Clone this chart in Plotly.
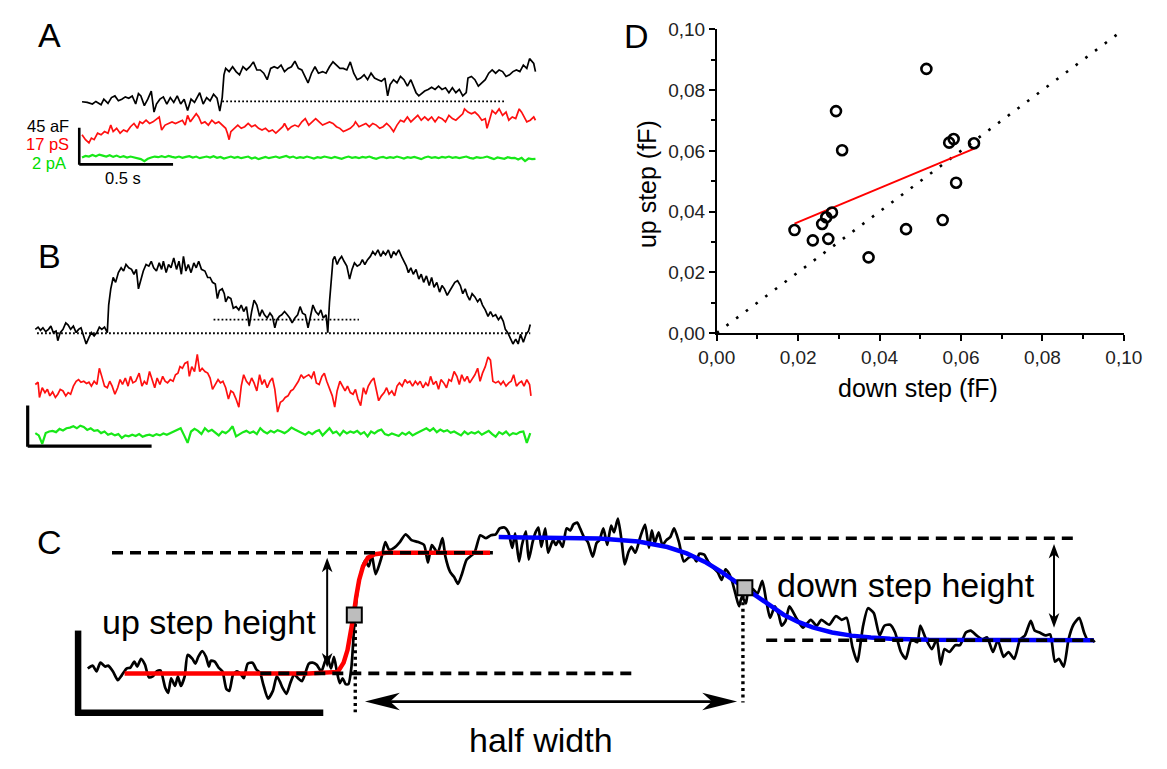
import plotly.graph_objects as go

W, H = 1167, 769
FONT = "Liberation Sans, Arial, sans-serif"

# ---------------- Panel D: up step vs down step (fF) ----------------
down_step = [0.0191, 0.0236, 0.0259, 0.0269, 0.0283, 0.0274, 0.0293, 0.0308,
             0.0373, 0.0465, 0.0515, 0.0555, 0.0571, 0.0582, 0.0588, 0.0632]
up_step = [0.0339, 0.0305, 0.0359, 0.0381, 0.0397, 0.0310, 0.0731, 0.0602,
           0.0249, 0.0342, 0.0870, 0.0372, 0.0627, 0.0639, 0.0495, 0.0625]
fit_x = [0.0191, 0.0634]
fit_y = [0.0360, 0.0608]
identity_xy = [0.0, 0.1007]
d_ticks = [0.00, 0.02, 0.04, 0.06, 0.08, 0.10]

A_CAP = [(185,283),(200,285),(215,290),(225,282),(240,292),(248,275),(260,288),(270,270),(280,265),(290,280),
         (300,275),(310,268),(320,272),(330,265),(340,290),(348,258),(355,265),(365,295),(375,275),(385,250),
         (393,315),(400,290),(410,275),(420,268),(430,290),(440,270),(450,285),(460,265),(470,290),(480,275),
         (490,310),(500,275),(510,285),(520,265),(525,255),(535,290),(545,270),(555,280),(565,260),(575,272),
         (583,312),(590,270),(595,200),(600,180),(610,190),(620,175),(630,190),(640,200),(650,175),(660,185),
         (670,175),(680,160),(690,185),(700,185),(710,195),(720,215),(730,180),(740,175),(750,180),(760,170),
         (770,190),(780,180),(790,175),(800,158),(810,180),(820,185),(830,210),(838,225),(848,195),(858,175),
         (868,195),(880,190),(890,195),(900,175),(910,160),(920,170),(930,180),(940,180),(950,185),(960,160),
         (970,195),(980,215),(990,210),(1000,200),(1010,215),(1020,195),(1030,210),(1040,215),(1050,220),(1060,210),
         (1068,265),(1075,230),(1085,215),(1095,225),(1105,205),(1115,215),(1125,235),(1135,215),(1145,240),(1150,255),
         (1158,265),(1165,258),(1175,250),(1185,245),(1195,238),(1205,245),(1215,235),(1225,245),(1235,240),(1245,255),
         (1255,240),(1265,255),(1275,245),(1285,265),(1295,255),(1300,210),(1310,205),(1320,215),(1330,235),(1340,225),
         (1350,215),(1360,195),(1370,185),(1380,195),(1390,185),(1400,190),(1410,205),(1420,200),(1430,190),(1440,185),
         (1450,190),(1460,170),(1470,180),(1478,150),(1485,160),(1490,165),(1495,190)]
A_COND = [(185,385),(195,400),(205,410),(212,395),(220,400),(230,380),(240,385),(250,375),(260,380),(268,355),
          (275,375),(285,365),(295,380),(305,370),(315,375),(325,360),(335,350),(345,365),(352,345),(360,350),
          (370,340),(380,350),(390,345),(400,335),(408,330),(415,370),(425,355),(435,350),(445,345),(455,350),
          (465,345),(475,340),(483,355),(490,325),(498,345),(505,335),(515,320),(522,330),(530,350),(540,345),
          (550,355),(560,340),(570,350),(580,345),(590,355),(600,365),(605,380),(610,400),(615,375),(625,365),
          (635,355),(645,365),(655,360),(665,350),(675,360),(685,355),(695,365),(705,370),(715,365),(725,375),
          (735,370),(745,380),(755,370),(765,360),(770,350),(780,370),(790,360),(800,355),(810,360),(820,345),
          (830,335),(840,355),(850,345),(860,335),(870,345),(880,355),(890,350),(900,345),(910,350),(920,360),
          (930,365),(940,375),(950,370),(960,365),(970,355),(975,345),(985,360),(995,355),(1005,350),(1015,360),
          (1025,350),(1035,355),(1045,365),(1055,360),(1065,350),(1075,360),(1085,375),(1095,355),(1105,340),(1115,345),
          (1125,330),(1135,345),(1145,335),(1155,325),(1165,340),(1175,330),(1185,340),(1195,330),(1205,345),(1215,330),
          (1225,335),(1235,345),(1245,325),(1255,335),(1265,340),(1275,330),(1285,320),(1290,305),(1300,315),(1310,320),
          (1320,315),(1330,325),(1340,340),(1350,335),(1355,365),(1362,340),(1370,310),(1380,320),(1390,305),(1400,325),
          (1410,315),(1418,340),(1428,330),(1438,335),(1448,305),(1455,315),(1462,330),(1470,345),(1480,340),(1490,330),
          (1495,340)]
A_CURR_T0, A_CURR_DT = 185, 10
A_CURR = [455,450,452,447,451,446,449,452,448,453,449,454,451,455,452,454,456,
          460,466,459,455,452,454,451,454,450,453,455,452,456,453,451,455,452,457,454,452,
          455,451,456,453,458,454,452,456,453,457,455,452,458,455,460,456,453,457,455,452,
          456,453,450,455,452,457,454,456,452,455,458,454,456,452,455,457,453,456,459,455,
          452,456,454,457,453,455,452,456,459,455,453,457,454,456,452,455,458,454,456,453,
          457,460,455,452,456,454,457,453,455,452,456,454,457,455,452,456,458,454,456,455,
          452,456,460,455,457,459,454,457,456,461,456,466,458,460,459]
A_BASE = (590, 1405, 282)

# ---------------- Panel B ----------------
B_CAP = [(50,385),(58,378),(65,388),(72,380),(80,392),(88,385),(95,375),(102,395),(110,390),(115,420),
         (122,395),(130,385),(138,365),(145,372),(152,385),(160,375),(168,395),(175,385),(182,380),(190,405),
         (197,430),(205,410),(212,395),(220,405),(228,395),(235,378),(242,385),(250,378),(258,395),(262,310),
         (268,260),(275,225),(282,240),(290,210),(298,195),(305,205),(312,185),(320,195),(328,200),(335,215),
         (342,200),(348,260),(355,235),(362,205),(370,185),(378,190),(385,175),(392,195),(400,205),(408,180),
         (415,200),(420,175),(428,210),(435,185),(442,195),(450,165),(458,200),(465,175),(472,215),(478,160),
         (485,205),(492,185),(500,210),(508,180),(515,195),(522,175),(530,200),(540,205),(548,225),(555,225),
         (562,240),(570,245),(576,290),(582,265),(590,260),(596,275),(600,300),(607,285),(615,290),(622,320),
         (630,315),(638,325),(645,310),(652,330),(660,315),(668,375),(675,330),(682,295),(690,310),(698,345),
         (705,325),(712,340),(720,350),(728,335),(735,345),(742,380),(748,355),(755,345),(762,340),(770,330),
         (778,340),(785,350),(792,365),(800,350),(808,340),(815,315),(822,335),(830,340),(838,380),(845,345),
         (852,310),(860,330),(868,340),(875,325),(882,350),(890,340),(895,395),(900,300),(905,225),(910,170),
         (915,160),(922,185),(928,170),(935,160),(942,175),(950,190),(958,230),(965,200),(972,180),(980,190),
         (988,185),(995,170),(1002,185),(1010,170),(1018,160),(1025,145),(1032,155),(1040,140),(1048,160),(1055,145),
         (1062,155),(1070,140),(1078,165),(1085,145),(1092,155),(1100,140),(1108,160),(1115,175),(1122,190),(1128,210),
         (1135,195),(1142,215),(1150,200),(1158,230),(1165,215),(1172,240),(1180,220),(1188,250),(1195,225),(1202,255),
         (1210,240),(1218,270),(1225,250),(1232,260),(1240,280),(1248,265),(1255,250),(1262,240),(1270,235),(1278,250),
         (1285,275),(1292,260),(1298,280),(1305,295),(1312,275),(1320,285),(1328,300),(1335,290),(1342,310),(1350,325),
         (1358,345),(1365,330),(1372,345),(1380,340),(1388,355),(1395,345),(1402,360),(1408,385),(1415,395),(1422,410),
         (1430,430),(1438,415),(1445,430),(1452,400),(1460,425),(1468,400),(1475,390),(1480,370)]
B_COND = [(50,555),(58,548),(62,595),(70,565),(78,580),(85,570),(92,590),(100,578),(108,595),(115,585),
          (122,570),(130,575),(138,590),(145,580),(152,585),(160,560),(168,545),(175,540),(182,548),(190,545),
          (198,552),(205,548),(212,560),(220,545),(228,555),(235,505),(242,530),(250,560),(258,565),(265,545),
          (272,560),(280,585),(288,565),(295,540),(302,555),(310,535),(318,560),(325,530),(332,550),(340,545),
          (350,520),(358,560),(365,545),(372,555),(380,515),(388,545),(395,565),(402,535),(410,555),(418,530),
          (425,545),(432,550),(440,540),(448,545),(455,525),(462,520),(468,500),(475,505),(482,490),(490,485),
          (495,530),(502,500),(510,515),(518,462),(525,515),(532,505),(540,515),(548,520),(555,535),(562,570),
          (570,555),(578,540),(585,550),(592,545),(600,565),(608,600),(615,575),(622,580),(630,600),(638,625),
          (645,560),(652,525),(660,545),(668,555),(675,535),(682,550),(690,575),(698,525),(705,555),(712,540),
          (720,565),(728,545),(735,535),(742,570),(750,640),(758,610),(765,605),(772,595),(780,590),(788,575),
          (795,570),(802,560),(810,545),(818,525),(825,535),(832,530),(840,525),(848,535),(855,515),(862,550),
          (870,555),(878,530),(885,520),(892,545),(900,565),(908,590),(915,625),(922,575),(930,545),(938,560),
          (945,575),(952,560),(960,580),(968,585),(975,570),(982,600),(990,620),(998,565),(1005,585),(1012,560),
          (1020,545),(1028,535),(1035,570),(1042,605),(1050,590),(1058,580),(1065,565),(1072,585),(1080,575),(1088,590),
          (1095,560),(1102,550),(1110,560),(1118,540),(1125,550),(1132,545),(1140,560),(1148,545),(1155,555),(1162,545),
          (1170,565),(1178,550),(1185,560),(1192,530),(1200,555),(1208,545),(1215,570),(1222,540),(1230,550),(1238,565),
          (1245,540),(1252,545),(1260,515),(1268,530),(1275,555),(1282,525),(1290,545),(1298,530),(1305,550),(1312,540),
          (1320,525),(1328,505),(1335,545),(1342,520),(1350,500),(1358,470),(1365,480),(1372,545),(1380,550),(1388,545),
          (1395,555),(1402,545),(1410,560),(1418,550),(1425,545),(1432,525),(1440,560),(1448,550),(1455,545),(1462,560),
          (1470,540),(1478,555),(1482,590)]
B_CURR_T0, B_CURR_DT = 50, 10
B_CURR = [705,712,738,705,700,698,702,692,697,690,688,684,690,682,686,695,690,698,696,705,
          700,710,706,712,708,720,712,715,710,714,708,716,712,710,714,708,712,706,710,705,
          702,695,690,712,735,700,692,698,708,690,700,695,705,712,700,705,697,684,715,708,
          702,698,705,700,708,690,700,706,698,703,696,700,705,698,688,694,700,706,710,702,
          708,700,696,712,702,690,705,700,712,698,706,700,704,698,708,702,715,700,706,698,
          694,708,712,706,710,714,704,710,702,712,706,700,694,690,698,690,702,694,700,696,
          704,700,706,712,700,708,702,706,700,710,704,698,708,716,702,708,700,712,705,708,
          702,700,735,705]
B_BASE = (55, 1480, 397)
B_BASE2 = (565, 985, 355)

# ---------------- Panel C: schematic trace and fits ----------------
C_TRACE = [(72,677),(77,674),(81,680),(85,671),(90,675),(93,674),(98,680),(103,689),(107,684),(112,677),
           (116,676),(120,670),(123,675),(127,667),(131,673),(135,686),(139,685),(143,680),(147,679),(152,697),
           (155,702),(158,687),(162,695),(165,685),(168,695),(172,685),(175,663),(180,667),(183,672),(186,665),
           (190,659),(194,665),(197,675),(199,669),(203,670),(207,676),(211,680),(215,698),(218,700),(222,683),
           (226,680),(230,683),(233,687),(237,672),(242,671),(246,678),(250,682),(253,693),(258,708),(263,700),
           (267,685),(270,690),(273,697),(277,703),(281,692),(285,683),(289,687),(293,690),(297,680),(300,672),
           (304,671),(308,673),(313,680),(316,672),(319,665),(323,677),(326,665),(329,680),(332,692),(335,687),
           (338,693),(341,693),(344,676),(347,632),(350,600),(354,578),(358,566),(362,572),(365,560),(369,580),
           (375,563),(379,547),(383,555),(388,553),(394,547),(400,539),(406,545),(413,547),(419,550),(423,568),
           (427,550),(433,558),(438,543),(441,562),(446,578),(450,583),(454,590),(458,580),(463,565),(471,558),
           (477,540),(483,543),(488,540),(493,539),(497,533),(502,532),(506,537),(510,553),(513,538),(517,567),
           (520,550),(524,536),(527,565),(531,547),(534,537),(537,532),(540,552),(544,533),(547,558),(552,545),
           (555,550),(558,545),(562,552),(566,533),(570,535),(573,529),(577,527),(580,533),(584,542),(588,547),
           (593,562),(597,548),(600,545),(604,533),(608,550),(612,530),(615,537),(619,523),(623,547),(626,570),
           (630,557),(633,552),(637,558),(642,542),(647,529),(651,553),(654,535),(657,548),(661,537),(665,550),
           (669,545),(673,542),(677,533),(682,547),(687,567),(692,563),(697,562),(700,567),(703,559),(708,560),
           (712,567),(717,573),(722,578),(726,586),(730,575),(734,580),(737,588),(741,603),(744,613),(747,603),
           (751,610),(753,600),(758,595),(763,600),(768,587),(772,607),(776,625),(781,613),(785,622),(788,633),
           (792,628),(796,613),(803,625),(810,635),(818,627),(824,633),(829,627),(837,632),(844,623),(850,627),
           (855,625),(861,655),(866,670),(872,633),(877,615),(883,620),(889,643),(894,633),(900,632),(905,640),
           (911,660),(916,667),(922,647),(928,650),(931,633),(937,647),(943,657),(948,647),(952,673),(956,657),
           (961,660),(967,653),(972,653),(978,640),(983,638),(989,643),(995,647),(1000,645),(1006,660),(1011,648),
           (1017,665),(1022,660),(1028,667),(1034,647),(1039,643),(1045,628),(1049,638),(1054,640),(1060,643),(1065,642),
           (1070,670),(1074,667),(1079,675),(1084,647),(1089,632),(1095,625),(1100,640),(1104,648),(1108,647),(1111,650)]
C_UP_FIT = [(110,682),(300,682),(330,680.5),(336,671),(340,658),(343,643),(346,624),(349,603),(352,586),
            (356,572),(361,563),(368,559.5),(380,558),(487,558)]
C_DOWN_FIT = [(496,541.8),(560,542.2),(600,543.3),(640,546.5),(670,552.1),(690,558.6),(710,568.0),(725,577.1),
              (740,587.5),(750,594.9),(760,602.2),(775,612.6),(790,621.7),(805,629.1),(820,634.7),(840,639.9),
              (860,643.2),(880,645.2),(900,646.4),(940,647.5),(1110,648)]
C_HALF_PTS = [(347,622),(750,594)]
C_LEVELS = [(97, 490, 558), (250, 633, 682), (687, 1090, 543), (772, 1110, 648)]


def xs(pairs):
    return [p[0] for p in pairs]


def ys(pairs):
    return [p[1] for p in pairs]


fig = go.Figure()
BLACK, RED, GREEN, BLUE = "#000000", "#ff1010", "#18e818", "#0000ff"

# Panel A traces
fig.add_trace(go.Scatter(x=xs(A_CAP), y=ys(A_CAP), mode="lines", line=dict(color=BLACK, width=1.7), xaxis="x", yaxis="y"))
fig.add_trace(go.Scatter(x=xs(A_COND), y=ys(A_COND), mode="lines", line=dict(color=RED, width=1.7), xaxis="x", yaxis="y"))
fig.add_trace(go.Scatter(x=[A_CURR_T0 + i * A_CURR_DT for i in range(len(A_CURR))], y=A_CURR, mode="lines",
                         line=dict(color=GREEN, width=2.2), xaxis="x", yaxis="y"))
# Panel B traces
fig.add_trace(go.Scatter(x=xs(B_CAP), y=ys(B_CAP), mode="lines", line=dict(color=BLACK, width=1.7), xaxis="x2", yaxis="y2"))
fig.add_trace(go.Scatter(x=xs(B_COND), y=ys(B_COND), mode="lines", line=dict(color=RED, width=1.7), xaxis="x2", yaxis="y2"))
fig.add_trace(go.Scatter(x=[B_CURR_T0 + i * B_CURR_DT for i in range(len(B_CURR))], y=B_CURR, mode="lines",
                         line=dict(color=GREEN, width=2.2), xaxis="x2", yaxis="y2"))
# Panel C traces
fig.add_trace(go.Scatter(x=xs(C_TRACE), y=ys(C_TRACE), mode="lines", line=dict(color=BLACK, width=2.7, shape="spline", smoothing=0.6),
                         xaxis="x3", yaxis="y3"))
fig.add_trace(go.Scatter(x=xs(C_UP_FIT), y=ys(C_UP_FIT), mode="lines", line=dict(color="#ff0000", width=4.5),
                         xaxis="x3", yaxis="y3"))
fig.add_trace(go.Scatter(x=xs(C_DOWN_FIT), y=ys(C_DOWN_FIT), mode="lines", line=dict(color=BLUE, width=4.5),
                         xaxis="x3", yaxis="y3"))
fig.add_trace(go.Scatter(x=xs(C_HALF_PTS), y=ys(C_HALF_PTS), mode="markers",
                         marker=dict(symbol="square", size=15, color="#bdbdbd", line=dict(color=BLACK, width=2)),
                         xaxis="x3", yaxis="y3"))
# Panel D traces
fig.add_trace(go.Scatter(x=identity_xy, y=identity_xy, mode="lines",
                         line=dict(color=BLACK, width=2.6, dash="2.6px,9.5px"), xaxis="x4", yaxis="y4"))
fig.add_trace(go.Scatter(x=fit_x, y=fit_y, mode="lines", line=dict(color="#ff0000", width=2), xaxis="x4", yaxis="y4"))
fig.add_trace(go.Scatter(x=down_step, y=up_step, mode="markers",
                         marker=dict(symbol="circle-open", size=10, color=BLACK, line=dict(width=2.6)),
                         xaxis="x4", yaxis="y4", cliponaxis=False))

shapes = []


def hline(x0, x1, y, xr, yr, width, dash=None, color=BLACK, layer="above"):
    ln = dict(color=color, width=width)
    if dash:
        ln["dash"] = dash
    shapes.append(dict(type="line", x0=x0, x1=x1, y0=y, y1=y, xref=xr, yref=yr, line=ln, layer=layer))


def vline(x, y0, y1, xr, yr, width, dash=None, color=BLACK, layer="above"):
    ln = dict(color=color, width=width)
    if dash:
        ln["dash"] = dash
    shapes.append(dict(type="line", x0=x, x1=x, y0=y0, y1=y1, xref=xr, yref=yr, line=ln, layer=layer))


def arrow_head(tx, ty, dx, dy, L, hw):
    bx, by = tx - L * dx, ty - L * dy
    nx, ny = -dy, dx
    mx, my = tx - 0.72 * L * dx, ty - 0.72 * L * dy
    path = (f"M{tx},{ty} L{bx + hw * nx},{by + hw * ny} L{mx},{my} "
            f"L{bx - hw * nx},{by - hw * ny} Z")
    shapes.append(dict(type="path", path=path, xref="x3", yref="y3", fillcolor=BLACK,
                       line=dict(width=0), layer="above"))


# baselines A / B
hline(A_BASE[0], A_BASE[1], A_BASE[2], "x", "y", 1.8, dash="1.8px,2.2px")
hline(B_BASE[0], B_BASE[1], B_BASE[2], "x2", "y2", 1.8, dash="1.8px,2.2px")
hline(B_BASE2[0], B_BASE2[1], B_BASE2[2], "x2", "y2", 1.8, dash="1.8px,2.2px")
# scale bars A
vline(177, 363, 477, "x", "y", 2.6)
hline(177, 448, 476, "x", "y", 2.6)
# scale bars B
vline(28, 620, 747, "x2", "y2", 3.2)
hline(28, 386, 745, "x2", "y2", 3.2)
# scale bar C
vline(62, 638, 725, "x3", "y3", 6.5)
hline(59, 315, 722.5, "x3", "y3", 6.5)
# level lines C
for x0, x1, y in C_LEVELS:
    hline(x0, x1, y, "x3", "y3", 3.6, dash="11px,7px")
# dotted verticals C
vline(348, 631, 722, "x3", "y3", 3.4, dash="3px,3.6px", layer="below")
vline(748, 602, 712, "x3", "y3", 3.4, dash="3px,3.6px", layer="below")
# up step arrow
vline(319, 563 + 10, 676 - 10, "x3", "y3", 2.0)
arrow_head(319, 563, 0, -1, 15, 5.5)
arrow_head(319, 676, 0, 1, 15, 5.5)
# down step arrow
vline(1069, 549 + 10, 635 - 10, "x3", "y3", 2.0)
arrow_head(1069, 549, 0, -1, 15, 5.5)
arrow_head(1069, 635, 0, 1, 15, 5.5)
# half width arrow
hline(358 + 25, 742 - 25, 711, "x3", "y3", 2.6)
arrow_head(358, 711, -1, 0, 36, 9)
arrow_head(742, 711, 1, 0, 36, 9)


def P(px, py):
    return px / W, 1 - py / H


annotations = []


def label(text, px, py, size, color=BLACK, xanchor="center", yanchor="middle", angle=0):
    x, y = P(px, py)
    annotations.append(dict(text=text, x=x, y=y, xref="paper", yref="paper", showarrow=False,
                            xanchor=xanchor, yanchor=yanchor, textangle=angle,
                            font=dict(family=FONT, size=size, color=color)))


label("A", 32, 26, 34)
label("B", 32, 253, 34)
label("C", 33, 547, 34)
label("D", 638, 27, 34)
label("45 aF", 55, 119, 16.5, BLACK, xanchor="right")
label("17 pS", 55, 138, 16.5, "#ff0000", xanchor="right")
label("2 pA", 52, 157, 16.5, "#00dd00", xanchor="right")
label("0.5 s", 108, 173, 16.5)
label("up step height", 197, 629, 34)
label("down step height", 916, 591, 34)
label("half width", 540, 751, 34)
label("up step (fF)", 649, 179, 25, angle=-90)
label("down step (fF)", 929, 389, 25)

hidden = dict(visible=False, showgrid=False, zeroline=False, fixedrange=True)
ax_d = dict(showline=True, linecolor=BLACK, linewidth=1.6, ticks="outside", ticklen=6, tickwidth=1.6,
            tickcolor=BLACK, tickvals=d_ticks, tickformat=".2f", showgrid=False, zeroline=False,
            tickfont=dict(family=FONT, size=19, color="#222222"),
            minor=dict(ticks="outside", ticklen=4, tickwidth=1.5, tickcolor=BLACK, dtick=0.01, tick0=0),
            fixedrange=True)

fig.update_layout(
    width=W, height=H, margin=dict(l=0, r=0, t=0, b=0), autosize=False,
    paper_bgcolor="white", plot_bgcolor="rgba(0,0,0,0)", showlegend=False,
    separators=",.",
    xaxis=dict(domain=[0, 560 / W], range=[0, 1568], anchor="y", **hidden),
    yaxis=dict(domain=[1 - 200 / H, 1], range=[600, 0], anchor="x", **hidden),
    xaxis2=dict(domain=[0, 560 / W], range=[0, 1568], anchor="y2", **hidden),
    yaxis2=dict(domain=[1 - 460 / H, 1 - 200 / H], range=[780, 0], anchor="x2", **hidden),
    xaxis3=dict(domain=[0, 1], range=[0, W], anchor="y3", **hidden),
    yaxis3=dict(domain=[0, 1 - 500 / H], range=[H, 500], anchor="x3", **hidden),
    xaxis4=dict(domain=[721 / W, 1141 / W], range=[0, 0.1], anchor="y4", **ax_d),
    yaxis4=dict(domain=[1 - 332 / H, 1 - 20 / H], range=[0, 0.1], anchor="x4", **ax_d),
    shapes=shapes, annotations=annotations,
)

fig.write_html("out.html")
